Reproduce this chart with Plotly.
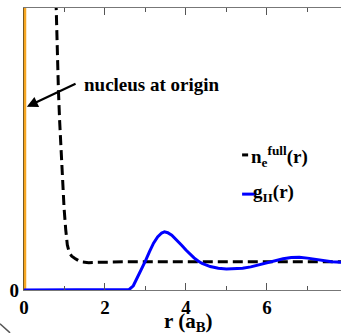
import plotly.graph_objects as go

# Radial distances (Bohr radii) and profiles
r_ne = [0.72, 0.76, 0.79, 0.82, 0.85, 0.88, 0.91, 0.95, 0.99, 1.03, 1.07, 1.12,
        1.18, 1.26, 1.35, 1.45, 1.6, 1.8, 2.0, 2.5, 3.0, 4.0, 5.0, 6.0, 7.0, 7.83]
ne_full = [14.0, 11.6, 10.0, 8.5, 7.1, 6.0, 5.1, 3.9, 2.9, 2.15, 1.6, 1.32,
           1.2, 1.12, 1.04, 0.99, 0.97, 0.98, 0.99, 1.0, 1.0, 1.0, 1.0, 1.0, 1.0, 1.0]

r_g = [0.0, 1.0, 2.0, 2.5, 2.6, 2.7, 2.8, 2.9, 3.0, 3.1, 3.2, 3.3, 3.4, 3.47, 3.55,
       3.65, 3.8, 3.9, 4.0, 4.1, 4.2, 4.3, 4.4, 4.6, 4.8, 5.0, 5.2, 5.4, 5.6, 5.8,
       6.0, 6.2, 6.4, 6.6, 6.8, 7.0, 7.2, 7.4, 7.6, 7.83]
g_II = [0.0, 0.0, 0.0, 0.0, 0.02, 0.15, 0.43, 0.75, 1.03, 1.36, 1.66, 1.88, 2.02,
        2.06, 2.03, 1.94, 1.74, 1.58, 1.42, 1.27, 1.14, 1.03, 0.94, 0.83, 0.77,
        0.745, 0.745, 0.77, 0.82, 0.89, 0.97, 1.05, 1.11, 1.155, 1.16, 1.13, 1.08,
        1.04, 1.0, 0.98]

x_ticks = [0, 2, 4, 6]
y_top = 10.0
x_right = 7.83

serif = "Times New Roman, Liberation Serif, serif"

fig = go.Figure()

# nucleus marker along r = 0
fig.add_trace(go.Scatter(x=[0, 0], y=[0, y_top], mode="lines",
                         line=dict(color="#F5A623", width=4.5),
                         showlegend=False, hoverinfo="skip"))

fig.add_trace(go.Scatter(x=r_ne, y=ne_full, mode="lines",
                         line=dict(color="black", width=3, dash="10px,5px"),
                         showlegend=False))
fig.add_trace(go.Scatter(x=r_g, y=g_II, mode="lines",
                         line=dict(color="#0000FF", width=3),
                         showlegend=False))

tick_font = dict(family=serif, size=19, color="black", weight="bold")

fig.update_xaxes(range=[0, x_right], tickvals=x_ticks,
                 ticktext=[str(v) for v in x_ticks],
                 ticks="inside", ticklen=7, tickwidth=1.2, tickcolor="#555",
                 minor=dict(ticks="inside", ticklen=4, dtick=1, tickcolor="#555"),
                 showline=True, linecolor="#777", linewidth=1.2, mirror="allticks",
                 showgrid=False, zeroline=False, tickfont=tick_font)
fig.update_yaxes(range=[0, y_top], tickvals=[0], ticktext=["0"], ticks="",
                 showline=True, linecolor="#7a5a20", linewidth=1.2, mirror=False,
                 showgrid=False, zeroline=False, tickfont=tick_font)

# axis title
fig.add_annotation(xref="paper", yref="paper", x=0.517, y=-0.062,
                   xanchor="center", yanchor="top", showarrow=False,
                   text="r (a<sub>B</sub>)",
                   font=dict(family=serif, size=21, color="black", weight="bold"))

# nucleus label and arrow
fig.add_annotation(x=0.07, y=6.5, ax=1.31, ay=7.34, axref="x", ayref="y",
                   xref="x", yref="y", text="", showarrow=True,
                   arrowhead=2, arrowsize=1, arrowwidth=2.2, arrowcolor="black")
fig.add_annotation(x=1.43, y=7.3, xanchor="left", yanchor="middle",
                   showarrow=False, text="nucleus at origin",
                   font=dict(family=serif, size=19, color="black", weight="bold"))

# legend
fig.add_shape(type="line", xref="paper", yref="paper",
              x0=0.688, x1=0.707, y0=0.479, y1=0.479,
              line=dict(color="black", width=3))
fig.add_shape(type="line", xref="paper", yref="paper",
              x0=0.688, x1=0.732, y0=0.34, y1=0.34,
              line=dict(color="#0000FF", width=3))
fig.add_annotation(xref="paper", yref="paper", x=0.710, y=0.472,
                   xanchor="left", yanchor="middle", showarrow=False,
                   text="n<sub>e</sub><sup>full</sup>(r)",
                   font=dict(family=serif, size=19, color="black", weight="bold"))
fig.add_annotation(xref="paper", yref="paper", x=0.716, y=0.344,
                   xanchor="left", yanchor="middle", showarrow=False,
                   text="g<sub>II</sub>(r)",
                   font=dict(family=serif, size=19, color="black", weight="bold"))

# stray frame edge in the lower-left corner
fig.add_shape(type="line", xref="paper", yref="paper",
              x0=-0.0757, y0=-0.12, x1=-0.044, y1=-0.152,
              line=dict(color="#555", width=1.5))

fig.update_layout(width=341, height=333, margin=dict(l=24, r=0, t=8, b=43),
                  paper_bgcolor="white", plot_bgcolor="white", showlegend=False)

fig.write_html("out.html")
